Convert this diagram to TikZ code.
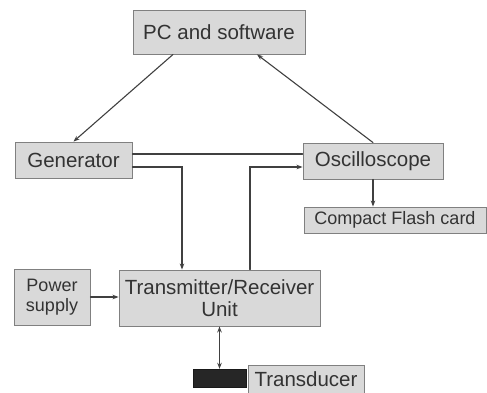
\documentclass[tikz,border=0pt]{standalone}
\usepackage{fontspec}
\setmainfont{Liberation Sans}
\usetikzlibrary{arrows.meta}
\begin{document}
\begin{tikzpicture}[x=1pt,y=-1pt,line cap=round,
% Styles
block/.style={draw=boxline,fill=boxfill,line width=0.9pt,inner sep=0pt,text=textcolor,align=center,font=\fontsize{20.5}{22.5}\selectfont},
small block/.style={block,font=\fontsize{18}{20.5}\selectfont},
link/.style={draw=linecolor,line width=1.1pt,-{Stealth[length=6pt,width=4.5pt]}},
plain link/.style={draw=linecolor,line width=1.1pt}]
% Colors
\colorlet{boxfill}{black!15}
\colorlet{boxline}{black!50}
\colorlet{textcolor}{black!80}
\colorlet{linecolor}{black!75}
\useasboundingbox (0,0) rectangle (487,392);
% Blocks
\node[block,minimum width=172pt,minimum height=44pt] (pc) at (219,32) {PC and software};
\node[block,minimum width=117pt,minimum height=36pt] (gen) at (73.5,160) {Generator};
\node[block,minimum width=140pt,minimum height=36pt] (osc) at (373,161) {Oscilloscope};
\node[small block,minimum width=182pt,minimum height=26pt] (cf) at (395,220) {Compact Flash card};
\node[small block,minimum width=76pt,minimum height=56pt] (pow) at (52,297) {Power\\supply};
\node[block,minimum width=201pt,minimum height=56pt] (tru) at (219.5,298) {Transmitter/Receiver\\Unit};
\node[draw=black!90,fill=black!85,minimum width=53pt,minimum height=18pt,inner sep=0pt] (probe) at (219.5,378) {};
\node[block,minimum width=116pt,minimum height=28pt] (trd) at (306,379) {Transducer};
% Connections
\draw[link] ([xshift=-46pt]pc.south) -- (gen.north);
\draw[link] (osc.north) -- ([xshift=38pt]pc.south);
\draw[plain link] ([yshift=6pt]gen.east) -- ([yshift=7pt]osc.west);
\draw[link] ([yshift=-7pt]gen.east) -| ([xshift=-37.5pt]tru.north);
\draw[link] ([xshift=30.5pt]tru.north) |- ([yshift=-6pt]osc.west);
\draw[link] (osc.south) -- (osc.south |- cf.north);
\draw[link] (pow.east) -- (pow.east -| tru.west);
\draw[link,{Stealth[length=6pt,width=4.5pt]}-{Stealth[length=6pt,width=4.5pt]}] (tru.south) -- (probe.north);
\end{tikzpicture}
\end{document}
